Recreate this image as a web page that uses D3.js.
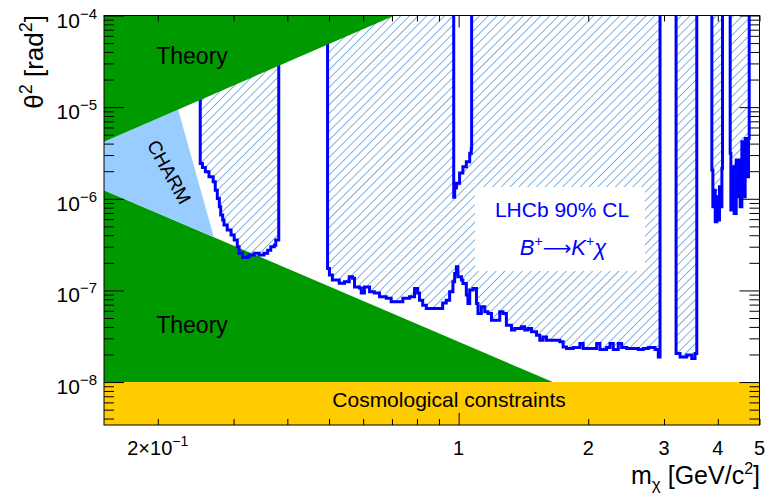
<!DOCTYPE html>
<html><head><meta charset="utf-8">
<script src="https://cdn.jsdelivr.net/npm/d3@7"></script>
<style>body{margin:0;background:#fff}</style>
</head><body><svg id="c" width="770" height="497"></svg>
<script>
// ---------------- data ----------------
const xDomain = [0.15, 5];
const yDomain = [3.4e-9, 1e-4];

const theoryUpperMass = [0.15, 0.15, 0.71];
const theoryUpperTheta2 = [1e-4, 4.2e-6, 1e-4];
const theoryLowerMass = [0.15, 1.655, 0.15];
const theoryLowerTheta2 = [1.24e-6, 1e-8, 1e-8];
const charmMass = [0.15, 0.223, 0.270, 0.15];
const charmTheta2 = [4.2e-6, 9.4e-6, 3.8e-7, 1.24e-6];
const cosmoTheta2 = 1e-8;

const region1Mass = [0.251,0.254,0.258,0.263,0.269,0.272,0.275,0.278,0.280,0.283,0.285,0.290,0.296,0.301,0.306,0.309,0.315,0.323,0.326,0.335,0.344,0.353,0.360,0.366,0.373,0.376,0.382];
const region1Limit = [2.43e-6,2.20e-6,1.97e-6,1.74e-6,1.53e-6,1.24e-6,1.01e-6,8.18e-7,6.64e-7,5.85e-7,5.16e-7,4.55e-7,4.02e-7,3.54e-7,2.99e-7,2.54e-7,2.29e-7,2.33e-7,2.43e-7,2.54e-7,2.43e-7,2.54e-7,2.75e-7,2.99e-7,3.12e-7,3.54e-7,3.54e-7];

const region2Mass = [0.496,0.501,0.509,0.528,0.543,0.557,0.567,0.573,0.588,0.594,
  0.604,0.621,0.637,0.655,0.679,0.697,0.716,0.742,0.769,0.790,
  0.803,0.811,0.825,0.841,0.870,0.903,0.918,0.936,0.953,0.970,
  0.979,0.988,0.996,1.015,1.023,1.042,1.051,1.061,1.080,1.100,
  1.109,1.129,1.150,1.170,1.192,1.224,1.246,1.268,1.291,1.327,
  1.350,1.400,1.424,1.450,1.477,1.517,1.544,1.571,1.600,1.658,
  1.718,1.749,1.781,1.845,1.913,1.947,2.018,2.092,2.130,2.207,
  2.247,2.287,2.349,2.392,2.457,2.546,2.615,2.685,2.758,2.809,
  2.859,2.910,2.937];
const region2Limit = [1.74e-7,1.47e-7,1.30e-7,1.20e-7,1.24e-7,1.41e-7,1.36e-7,1.09e-7,1.06e-7,9.35e-8,
  1.09e-7,9.66e-8,9.35e-8,8.51e-8,8.24e-8,7.51e-8,7.51e-8,8.24e-8,8.51e-8,1.05e-7,
  9.35e-8,7.83e-8,6.91e-8,6.36e-8,6.36e-8,6.36e-8,7.27e-8,7.83e-8,9.66e-8,1.24e-7,
  1.53e-7,1.81e-7,1.41e-7,1.30e-7,1.19e-7,8.89e-8,7.21e-8,1.01e-7,1.05e-7,7.21e-8,
  5.61e-8,6.62e-8,5.84e-8,5.61e-8,4.74e-8,4.74e-8,5.84e-8,5.61e-8,4.18e-8,3.69e-8,
  3.85e-8,4.01e-8,3.69e-8,3.85e-8,3.53e-8,3.25e-8,2.86e-8,3.11e-8,2.86e-8,2.86e-8,
  2.75e-8,2.42e-8,2.33e-8,2.39e-8,2.64e-8,2.33e-8,2.33e-8,2.64e-8,2.27e-8,2.39e-8,
  2.64e-8,2.27e-8,2.64e-8,2.39e-8,2.33e-8,2.33e-8,2.27e-8,2.33e-8,2.39e-8,2.39e-8,
  2.27e-8,1.88e-8,1.88e-8];

const notchMass = [0.974,0.979,0.988,1.005,1.023,1.042,1.061,1.070,1.072];
const notchLimit = [1.04e-6,1.31e-6,1.48e-6,1.91e-6,2.23e-6,2.54e-6,3.13e-6,3.55e-6,3.55e-6];

const region3Mass = [3.200,3.269,3.388,3.480,3.542,3.575];
const region3Limit = [2.05e-8,1.88e-8,1.97e-8,1.81e-8,2.05e-8,2.05e-8];

const region4Mass = [3.875,3.896,3.924,3.945,3.981,4.015,4.037,4.067,4.089,4.102];
const region4Limit = [2.06e-6,8.18e-7,1.24e-6,5.61e-7,1.05e-6,5.85e-7,1.35e-6,8.18e-7,2.15e-6,2.15e-6];

const region5Mass = [4.274,4.290,4.336,4.366,4.414,4.444,4.485,4.509,4.550,4.589,4.631,4.674,4.714,4.732];
const region5Limit = [3.13e-6,7.53e-7,2.23e-6,6.93e-7,2.65e-6,1.05e-6,2.65e-6,8.18e-7,4.19e-6,1.05e-6,4.56e-6,1.74e-6,4.56e-6,4.56e-6];

const xMinorTicks = [0.2,0.3,0.4,0.5,0.6,0.7,0.8,0.9,2,3,4,5];
const xMajorTicks = [1];
const xTickLabels = [[0.2,"2×10","−1"],[1,"1",""],[2,"2",""],[3,"3",""],[4,"4",""],[5,"5",""]];
const yMajorTicks = [1e-4,1e-5,1e-6,1e-7,1e-8];
const yTickExps = ["−4","−5","−6","−7","−8"];

// ---------------- drawing ----------------
const F = "'Liberation Sans', Arial, Helvetica, sans-serif";
const svg = d3.select('#c');
const L = 104, R = 759.5, T = 15.5, B = 425;
const x = d3.scaleLog().domain(xDomain).range([L, R]);
const y = d3.scaleLog().domain(yDomain).range([B, T]);

const defs = svg.append('defs');
defs.append('clipPath').attr('id','plot').append('rect')
  .attr('x',L).attr('y',T).attr('width',R-L).attr('height',B-T);
const pat = defs.append('pattern').attr('id','hatch').attr('patternUnits','userSpaceOnUse')
  .attr('width',6.2).attr('height',6.2).attr('patternTransform','rotate(45)');
pat.append('line').attr('x1',3.1).attr('y1',0).attr('x2',3.1).attr('y2',6.2)
  .attr('stroke','#4a90d8').attr('stroke-width',0.7);

const g = svg.append('g').attr('clip-path','url(#plot)');

const poly = d3.line().x(d=>x(d[0])).y(d=>y(d[1]));
const step = d3.line().x(d=>x(d[0])).y(d=>y(d[1])).curve(d3.curveStepAfter);
const zip = (a,b)=>a.map((v,i)=>[v,b[i]]);
const regionPts = (m,l)=>[[m[0],yDomain[1]], ...zip(m,l), [m[m.length-1],yDomain[1]]];

const regions = [[region1Mass,region1Limit],[region2Mass,region2Limit],[region3Mass,region3Limit],[region4Mass,region4Limit],[region5Mass,region5Limit]];
const notchPts = regionPts(notchMass, notchLimit);

// hatch fills
regions.forEach(([m,l],i)=>{
  let d = step(regionPts(m,l)) + 'Z';
  if(i===1) d += step(notchPts) + 'Z';
  g.append('path').attr('d',d).attr('fill','url(#hatch)').attr('fill-rule','evenodd');
});

// lower theory
g.append('path').attr('d',poly(zip(theoryLowerMass,theoryLowerTheta2))+'Z').attr('fill','#009900');
// CHARM
g.append('path').attr('d',poly(zip(charmMass,charmTheta2))+'Z').attr('fill','#99ccff');

// text box
g.append('rect').attr('x',475).attr('y',187).attr('width',170).attr('height',84).attr('fill','#fff');

// outlines
regions.forEach(([m,l])=>{
  g.append('path').attr('d',step(regionPts(m,l))).attr('fill','none')
   .attr('stroke','#0000ff').attr('stroke-width',3);
});
g.append('path').attr('d',step(notchPts)).attr('fill','none')
  .attr('stroke','#0000ff').attr('stroke-width',3);

// upper theory
g.append('path').attr('d',poly(zip(theoryUpperMass,theoryUpperTheta2))+'Z').attr('fill','#009900');

// cosmological band
g.append('rect').attr('x',L).attr('y',y(cosmoTheta2)).attr('width',R-L).attr('height',B-y(cosmoTheta2)).attr('fill','#ffcc00');

// axes ticks
function ticks(axisFn, vals, size, transform){
  const a = axisFn.tickValues(vals).tickSize(size).tickFormat('');
  const gg = svg.append('g').attr('transform',transform).call(a);
  gg.select('.domain').remove();
  gg.selectAll('line').attr('stroke','#000');
}
ticks(d3.axisBottom(x), xMinorTicks, -6, `translate(0,${B})`);
ticks(d3.axisBottom(x), xMajorTicks, -12, `translate(0,${B})`);
ticks(d3.axisTop(x), xMinorTicks, -6, `translate(0,${T})`);
ticks(d3.axisTop(x), xMajorTicks, -12, `translate(0,${T})`);
const yMinor = [];
for(let k=-9;k<=-5;k++) for(let j=2;j<=9;j++){ const v=j*Math.pow(10,k); if(v>=yDomain[0]&&v<=yDomain[1]) yMinor.push(v); }
ticks(d3.axisLeft(y), yMinor, -10, `translate(${L},0)`);
ticks(d3.axisLeft(y), yMajorTicks, -20, `translate(${L},0)`);
ticks(d3.axisRight(y), yMinor, -10, `translate(${R},0)`);
ticks(d3.axisRight(y), yMajorTicks, -20, `translate(${R},0)`);

// frame
svg.append('rect').attr('x',L).attr('y',T).attr('width',R-L).attr('height',B-T)
  .attr('fill','none').attr('stroke','#000').attr('stroke-width',1);

// y tick labels
yMajorTicks.forEach((v,i)=>{
  const t = svg.append('text').attr('x',97).attr('y',y(v)+12).attr('text-anchor','end')
    .attr('font-family',F).attr('font-size',21).attr('fill','#000');
  t.append('tspan').text('10');
  t.append('tspan').attr('dy',-9).attr('font-size',15).text(yTickExps[i]);
});
// x tick labels
xTickLabels.forEach(([v,base,exp])=>{
  const t = svg.append('text').attr('x',x(v)).attr('y',455).attr('text-anchor','middle')
    .attr('font-family',F).attr('font-size',20).attr('fill','#000');
  t.append('tspan').text(base);
  if(exp) t.append('tspan').attr('dy',-9).attr('font-size',14).text(exp);
});

// axis titles
const xt = svg.append('text').attr('x',760).attr('y',484).attr('text-anchor','end')
  .attr('font-family',F).attr('font-size',25).attr('fill','#000');
xt.append('tspan').text('m');
xt.append('tspan').attr('dy',6).attr('font-size',17).text('χ');
xt.append('tspan').attr('dy',-6).text(' [GeV/c');
xt.append('tspan').attr('dy',-10).attr('font-size',16).text('2');
xt.append('tspan').attr('dy',10).text(']');

const yt = svg.append('text').attr('transform','translate(43,15) rotate(-90)').attr('text-anchor','end')
  .attr('font-family',F).attr('font-size',26).attr('fill','#000');
yt.append('tspan').text('θ');
yt.append('tspan').attr('dy',-11).attr('font-size',18).text('2');
yt.append('tspan').attr('dy',11).text(' [rad');
yt.append('tspan').attr('dy',-11).attr('font-size',18).text('2');
yt.append('tspan').attr('dy',11).text(']');

// region labels
[64, 333].forEach(yy=>{
  svg.append('text').attr('x',192).attr('y',yy).attr('text-anchor','middle')
    .attr('font-family',F).attr('font-size',23).attr('fill','#000').text('Theory');
});
svg.append('text').attr('transform','translate(169,172) rotate(61)').attr('text-anchor','middle')
  .attr('dominant-baseline','central').attr('font-family',F).attr('font-size',19).attr('fill','#000').text('CHARM');
svg.append('text').attr('x',449).attr('y',407).attr('text-anchor','middle')
  .attr('font-family',F).attr('font-size',21).attr('fill','#000').text('Cosmological constraints');

svg.append('text').attr('x',562).attr('y',217).attr('text-anchor','middle')
  .attr('font-family',F).attr('font-size',21).attr('fill','#0000ff').text('LHCb 90% CL');
const bt = svg.append('text').attr('x',563).attr('y',255).attr('text-anchor','middle')
  .attr('font-family',F).attr('font-size',22).attr('fill','#0000ff');
bt.append('tspan').attr('font-style','italic').text('B');
bt.append('tspan').attr('dy',-9).attr('font-size',14).text('+');
bt.append('tspan').attr('dy',9).attr('font-family',"'DejaVu Sans', sans-serif").attr('font-size',20).text('⟶');
bt.append('tspan').attr('font-style','italic').text('K');
bt.append('tspan').attr('dy',-9).attr('font-size',14).text('+');
bt.append('tspan').attr('dy',9).attr('font-style','italic').text('χ');
</script></body></html>
